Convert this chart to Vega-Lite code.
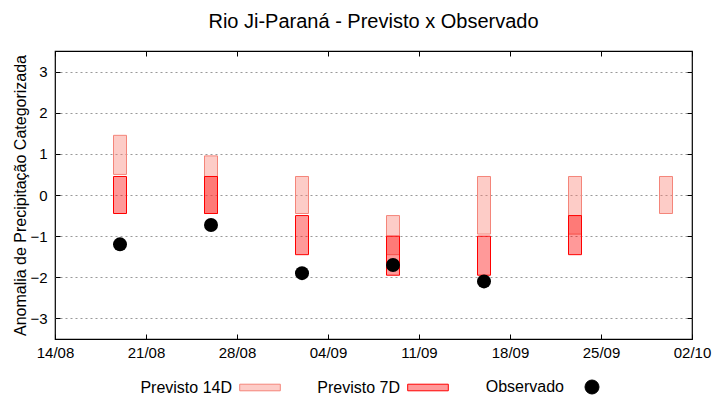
{
  "$schema": "https://vega.github.io/schema/vega-lite/v6.json",
  "width": 637,
  "height": 288,
  "autosize": {"type": "none"},
  "padding": {"left": 55, "top": 51, "right": 28, "bottom": 61},
  "title": {
    "text": "Rio Ji-Paraná - Previsto x Observado",
    "fontSize": 20,
    "font": "Liberation Sans",
    "fontWeight": "normal",
    "color": "black",
    "baseline": "alphabetic",
    "offset": 3
  },
  "data": {
    "values": [
      {"series": "Previsto 14D", "date": "2024-08-19", "lo": 0.5, "hi": 1.45},
      {"series": "Previsto 14D", "date": "2024-08-26", "lo": -0.45, "hi": 0.95},
      {"series": "Previsto 14D", "date": "2024-09-02", "lo": -0.45, "hi": 0.45},
      {"series": "Previsto 14D", "date": "2024-09-09", "lo": -1.45, "hi": -0.5},
      {"series": "Previsto 14D", "date": "2024-09-16", "lo": -0.95, "hi": 0.45},
      {"series": "Previsto 14D", "date": "2024-09-23", "lo": -0.95, "hi": 0.45},
      {"series": "Previsto 14D", "date": "2024-09-30", "lo": -0.45, "hi": 0.45},
      {"series": "Previsto 7D", "date": "2024-08-19", "lo": -0.45, "hi": 0.45},
      {"series": "Previsto 7D", "date": "2024-08-26", "lo": -0.45, "hi": 0.45},
      {"series": "Previsto 7D", "date": "2024-09-02", "lo": -1.45, "hi": -0.5},
      {"series": "Previsto 7D", "date": "2024-09-09", "lo": -1.95, "hi": -1.0},
      {"series": "Previsto 7D", "date": "2024-09-16", "lo": -1.95, "hi": -1.0},
      {"series": "Previsto 7D", "date": "2024-09-23", "lo": -1.45, "hi": -0.5},
      {"series": "Observado", "date": "2024-08-19", "val": -1.2},
      {"series": "Observado", "date": "2024-08-26", "val": -0.73},
      {"series": "Observado", "date": "2024-09-02", "val": -1.9},
      {"series": "Observado", "date": "2024-09-09", "val": -1.7},
      {"series": "Observado", "date": "2024-09-16", "val": -2.1}
    ]
  },
  "config": {
    "view": {"stroke": "black", "strokeWidth": 1.2},
    "font": "Liberation Sans",
    "axis": {
      "labelFont": "Liberation Sans",
      "labelFontSize": 15,
      "labelColor": "black",
      "tickColor": "black",
      "tickWidth": 1,
      "domain": false,
      "labelFlush": false,
      "labelOverlap": false,
      "titleFont": "Liberation Sans",
      "titleFontWeight": "normal",
      "titleColor": "black"
    },
    "legend": {
      "orient": "none",
      "legendX": 197,
      "legendY": 328,
      "direction": "horizontal",
      "labelFont": "Liberation Sans",
      "labelFontSize": 16,
      "labelColor": "black",
      "labelAlign": "right",
      "labelOffset": -36,
      "symbolSize": 196,
      "symbolStrokeWidth": 1,
      "columnPadding": 34
    }
  },
  "layer": [
    {
      "transform": [{"filter": "datum.series != 'Observado'"}],
      "mark": {"type": "bar", "size": 13, "strokeWidth": 1},
      "encoding": {
        "x": {
          "field": "date",
          "type": "temporal",
          "scale": {
            "type": "utc",
            "padding": 0,
            "domain": [
              {"year": 2024, "month": 8, "date": 14, "utc": true},
              {"year": 2024, "month": 10, "date": 2, "utc": true}
            ]
          },
          "axis": {
            "orient": "bottom",
            "title": null,
            "labelExpr": "utcFormat(datum.value, '%d/%m')",
            "labelFlush": false,
            "labelBound": false,
            "grid": false,
            "tickSize": -5,
            "labelPadding": 11,
            "values": [
              {"year": 2024, "month": 8, "date": 14, "utc": true},
              {"year": 2024, "month": 8, "date": 21, "utc": true},
              {"year": 2024, "month": 8, "date": 28, "utc": true},
              {"year": 2024, "month": 9, "date": 4, "utc": true},
              {"year": 2024, "month": 9, "date": 11, "utc": true},
              {"year": 2024, "month": 9, "date": 18, "utc": true},
              {"year": 2024, "month": 9, "date": 25, "utc": true},
              {"year": 2024, "month": 10, "date": 2, "utc": true}
            ]
          }
        },
        "y": {
          "field": "lo",
          "type": "quantitative",
          "scale": {"domain": [-3.5, 3.5]},
          "axis": {
            "orient": "left",
            "title": "Anomalia de Precipitação Categorizada",
            "titleFontSize": 16,
            "titlePadding": 1,
            "values": [-3, -2, -1, 0, 1, 2, 3],
            "grid": true,
            "gridDash": [2, 3],
            "gridColor": "#999999",
            "gridWidth": 1,
            "tickSize": -5,
            "labelPadding": 13
          }
        },
        "y2": {"field": "hi"},
        "fill": {
          "field": "series",
          "type": "nominal",
          "scale": {
            "domain": ["Previsto 14D", "Previsto 7D", "Observado"],
            "range": ["rgba(250,128,114,0.4)", "rgba(255,0,0,0.4)", "black"]
          },
          "legend": {"title": null}
        },
        "stroke": {
          "field": "series",
          "type": "nominal",
          "scale": {
            "domain": ["Previsto 14D", "Previsto 7D", "Observado"],
            "range": ["#f4857a", "#ff0000", "black"]
          },
          "legend": {"title": null}
        }
      }
    },
    {
      "transform": [{"filter": "datum.series == 'Observado'"}],
      "mark": {"type": "point", "filled": true, "size": 196, "opacity": 1},
      "encoding": {
        "x": {
          "field": "date",
          "type": "temporal",
          "axis": {
            "orient": "top",
            "title": null,
            "labels": false,
            "grid": false,
            "tickSize": -5,
            "values": [
              {"year": 2024, "month": 8, "date": 14, "utc": true},
              {"year": 2024, "month": 8, "date": 21, "utc": true},
              {"year": 2024, "month": 8, "date": 28, "utc": true},
              {"year": 2024, "month": 9, "date": 4, "utc": true},
              {"year": 2024, "month": 9, "date": 11, "utc": true},
              {"year": 2024, "month": 9, "date": 18, "utc": true},
              {"year": 2024, "month": 9, "date": 25, "utc": true},
              {"year": 2024, "month": 10, "date": 2, "utc": true}
            ]
          }
        },
        "y": {
          "field": "val",
          "type": "quantitative",
          "axis": {
            "orient": "right",
            "title": null,
            "labels": false,
            "grid": false,
            "tickSize": -5,
            "values": [-3, -2, -1, 0, 1, 2, 3]
          }
        },
        "fill": {
          "field": "series",
          "type": "nominal",
          "scale": {
            "domain": ["Previsto 14D", "Previsto 7D", "Observado"],
            "range": ["rgba(250,128,114,0.4)", "rgba(255,0,0,0.4)", "black"]
          },
          "legend": {"title": null}
        },
        "shape": {
          "field": "series",
          "type": "nominal",
          "scale": {
            "domain": ["Previsto 14D", "Previsto 7D", "Observado"],
            "range": ["M-2.9,-0.47H2.9V0.47H-2.9Z", "M-2.9,-0.47H2.9V0.47H-2.9Z", "circle"]
          },
          "legend": {"title": null}
        }
      }
    }
  ],
  "resolve": {"axis": {"x": "independent", "y": "independent"}}
}
